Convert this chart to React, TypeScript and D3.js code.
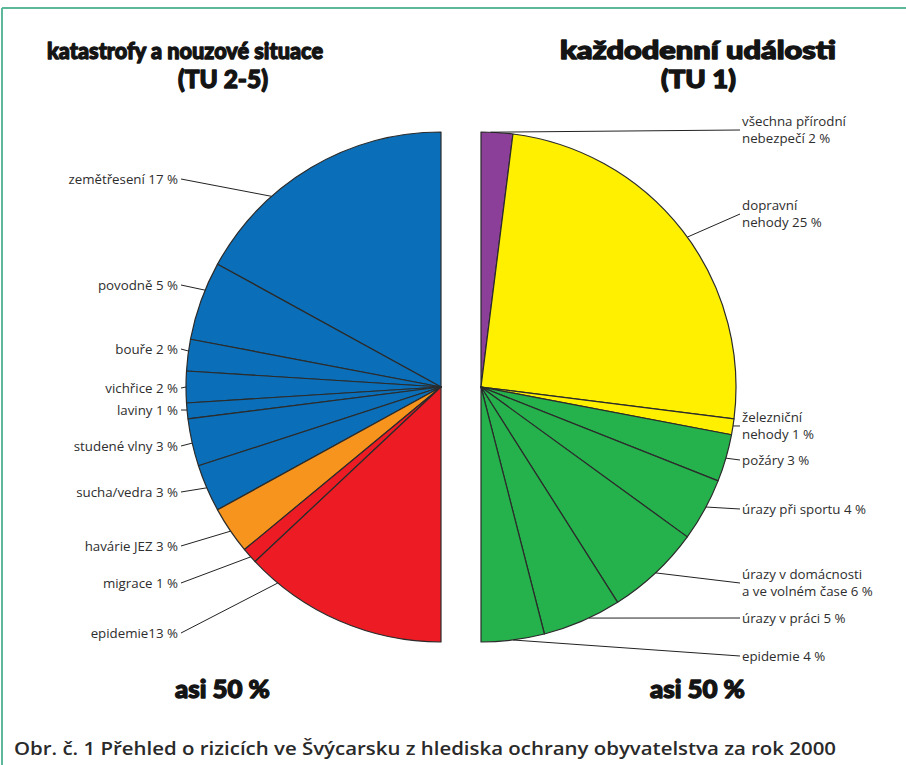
import React from "react";
import * as d3 from "d3";

// Left half: disasters and emergencies (TU 2-5), shares in %
const LEFT_CATEGORIES = [
  "zemětřesení",
  "povodně",
  "bouře",
  "vichřice",
  "laviny",
  "studené vlny",
  "sucha/vedra",
  "havárie JEZ",
  "migrace",
  "epidemie",
];
const LEFT_VALUES = [17, 5, 2, 2, 1, 3, 3, 3, 1, 13];
const LEFT_COLORS = [
  "#0a6fb8", "#0a6fb8", "#0a6fb8", "#0a6fb8", "#0a6fb8", "#0a6fb8", "#0a6fb8",
  "#f7941d", "#ed1c24", "#ed1c24",
];

// Right half: everyday events (TU 1), shares in %
const RIGHT_CATEGORIES = [
  ["všechna přírodní", "nebezpečí"],
  ["dopravní", "nehody"],
  ["železniční", "nehody"],
  ["požáry"],
  ["úrazy při sportu"],
  ["úrazy v domácnosti", "a ve volném čase"],
  ["úrazy v práci"],
  ["epidemie"],
];
const RIGHT_VALUES = [2, 25, 1, 3, 4, 6, 5, 4];
const RIGHT_COLORS = [
  "#8b3f98", "#fff000", "#fff000",
  "#25b14c", "#25b14c", "#25b14c", "#25b14c", "#25b14c",
];

const TITLES_LEFT = ["katastrofy a nouzové situace", "(TU 2-5)"];
const TITLES_RIGHT = ["každodenní události", "(TU 1)"];
const TOTAL_LABEL = "asi 50 %";
const CAPTION =
  "Obr. č. 1 Přehled o rizicích ve Švýcarsku z hlediska ochrany obyvatelstva za rok 2000";

// Label layout: vertical position of each leader and where along its slice it touches the rim
const LEFT_LABEL_Y = [179, 285, 349, 388, 410, 446, 492, 546, 583, 633];
const LEFT_ANCHOR = [0.68, 0.36, 0.375, 0.5, 0.44, 0.51, 0.49, 0.52, 0.6, 0.15];
const RIGHT_LABEL_Y = [130, 214, 426, 460, 509, 583, 618, 656];
const RIGHT_ANCHOR = [0.3, 0.52, 0.44, 0.5, 0.45, 0.5, 0.41, 0.5];

const W = 906;
const H = 765;
const R = 255;
const LEFT_CX = 441;
const RIGHT_CX = 481;
const CY = 387;

const HEAVY = "Lato, 'DejaVu Sans', sans-serif";
const LABEL_FONT = "'Open Sans', Lato, sans-serif";
const INK = "#2e2e2e";

function rimPoint(cx: number, a: number) {
  return [cx + R * Math.sin(a), CY - R * Math.cos(a)];
}

export default function App() {
  const arc = d3.arc<d3.PieArcDatum<number>>().innerRadius(0).outerRadius(R);

  const leftPie = d3
    .pie<number>()
    .sort(null)
    .value((d) => d)
    .startAngle(0)
    .endAngle(-Math.PI)(LEFT_VALUES);

  const rightPie = d3
    .pie<number>()
    .sort(null)
    .value((d) => d)
    .startAngle(0)
    .endAngle(Math.PI)(RIGHT_VALUES);

  const heavyText = {
    fontFamily: HEAVY,
    fontWeight: 900,
    fill: "#141414",
    stroke: "#141414",
    strokeWidth: 1.3,
    strokeLinejoin: "round" as const,
  };

  return (
    <svg
      width={W}
      height={H}
      style={{ position: "absolute", left: 0, top: 0, display: "block", background: "#fff" }}
    >
      {/* frame */}
      <line x1={2} y1={8} x2={W} y2={8} stroke="#5db79b" strokeWidth={2} />
      <line x1={2} y1={8} x2={2} y2={H} stroke="#5db79b" strokeWidth={2} />

      {/* titles */}
      <g {...heavyText}>
        <text x={47} y={59} fontSize={23.5} textLength={276} lengthAdjust="spacingAndGlyphs">
          {TITLES_LEFT[0]}
        </text>
        <text x={178} y={88} fontSize={24} textLength={90} lengthAdjust="spacingAndGlyphs">
          {TITLES_LEFT[1]}
        </text>
        <text x={560} y={59} fontSize={24} textLength={276} lengthAdjust="spacingAndGlyphs">
          {TITLES_RIGHT[0]}
        </text>
        <text x={661} y={88} fontSize={24} textLength={75} lengthAdjust="spacingAndGlyphs">
          {TITLES_RIGHT[1]}
        </text>
      </g>

      {/* left half pie */}
      <g transform={`translate(${LEFT_CX},${CY})`}>
        {leftPie.map((d, i) => (
          <path
            key={i}
            d={arc(d) as string}
            fill={LEFT_COLORS[i]}
            stroke="#2b2b2b"
            strokeWidth={1.2}
            strokeLinejoin="round"
          />
        ))}
      </g>

      {/* right half pie */}
      <g transform={`translate(${RIGHT_CX},${CY})`}>
        {rightPie.map((d, i) => (
          <path
            key={i}
            d={arc(d) as string}
            fill={RIGHT_COLORS[i]}
            stroke="#2b2b2b"
            strokeWidth={1.2}
            strokeLinejoin="round"
          />
        ))}
      </g>

      {/* left labels */}
      <g fontFamily={LABEL_FONT} fontSize={13.3} fill={INK}>
        {leftPie.map((d, i) => {
          const a = d.startAngle + LEFT_ANCHOR[i] * (d.endAngle - d.startAngle);
          const [px, py] = rimPoint(LEFT_CX, a);
          const y = LEFT_LABEL_Y[i];
          const name = LEFT_CATEGORIES[i];
          const sep = name === "epidemie" ? "" : " ";
          return (
            <g key={i}>
              <line x1={181} y1={y} x2={px} y2={py} stroke="#222" strokeWidth={1} />
              <text x={178} y={y} dy="0.35em" textAnchor="end">
                {`${name}${sep}${LEFT_VALUES[i]} %`}
              </text>
            </g>
          );
        })}
      </g>

      {/* right labels */}
      <g fontFamily={LABEL_FONT} fontSize={13.3} fill={INK}>
        {rightPie.map((d, i) => {
          const a = d.startAngle + RIGHT_ANCHOR[i] * (d.endAngle - d.startAngle);
          const [px, py] = rimPoint(RIGHT_CX, a);
          const y = RIGHT_LABEL_Y[i];
          const lines = RIGHT_CATEGORIES[i].slice();
          lines[lines.length - 1] = `${lines[lines.length - 1]} ${RIGHT_VALUES[i]} %`;
          const lh = 17.5;
          const y0 = y - ((lines.length - 1) * lh) / 2;
          return (
            <g key={i}>
              <line x1={px} y1={py} x2={740} y2={y} stroke="#222" strokeWidth={1} />
              <text>
                {lines.map((t, j) => (
                  <tspan key={j} x={742} y={y0 + j * lh} dy="0.35em">
                    {t}
                  </tspan>
                ))}
              </text>
            </g>
          );
        })}
      </g>

      {/* totals */}
      <g {...heavyText} fontSize={24}>
        <text x={175} y={698} textLength={95} lengthAdjust="spacingAndGlyphs">
          {TOTAL_LABEL}
        </text>
        <text x={650} y={698} textLength={95} lengthAdjust="spacingAndGlyphs">
          {TOTAL_LABEL}
        </text>
      </g>

      {/* caption */}
      <text
        x={14}
        y={755}
        fontFamily="'Open Sans', Lato, sans-serif"
        fontWeight={600}
        fontSize={18}
        fill="#2a2a2a"
        textLength={822}
        lengthAdjust="spacingAndGlyphs"
      >
        {CAPTION}
      </text>
    </svg>
  );
}
